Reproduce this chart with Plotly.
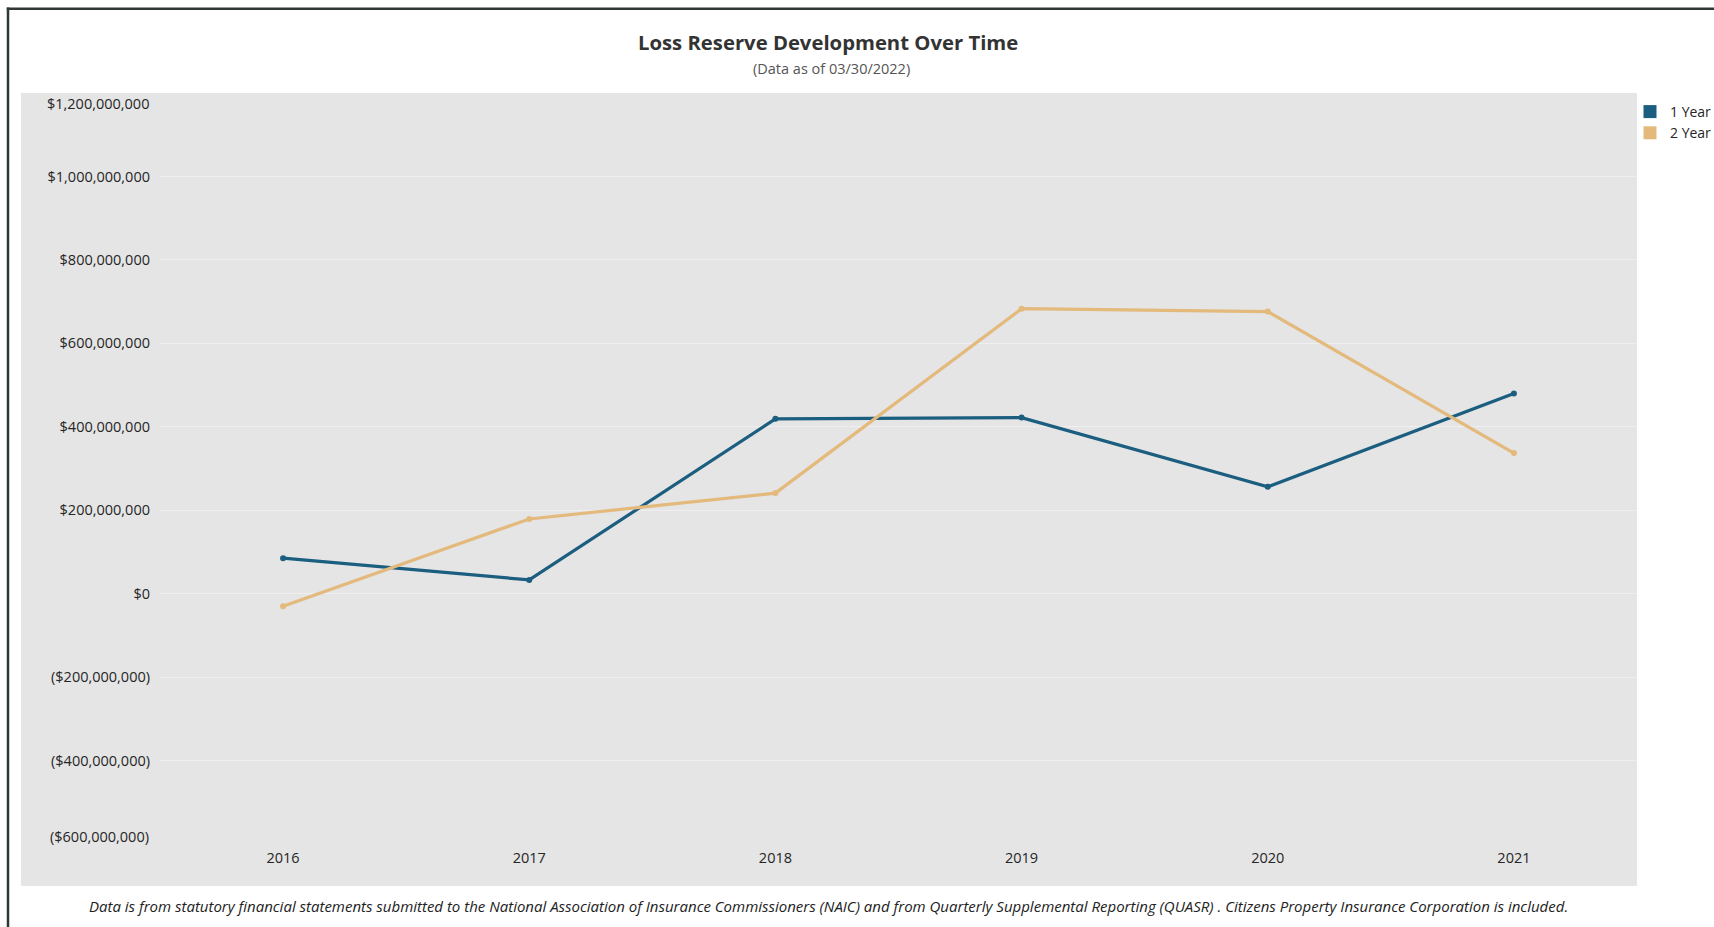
import plotly.graph_objects as go

# ---- data ----
years = ["2016", "2017", "2018", "2019", "2020", "2021"]
one_year = [85_000_000, 33_000_000, 419_000_000, 422_000_000, 256_000_000, 480_000_000]
two_year = [-30_000_000, 179_000_000, 241_000_000, 683_000_000, 676_000_000, 337_000_000]
y_ticks = [-400_000_000, -200_000_000, 0, 200_000_000, 400_000_000,
           600_000_000, 800_000_000, 1_000_000_000]
y_min, y_max = -600_000_000, 1_200_000_000

def money(v):
    s = "${:,.0f}".format(abs(v))
    return "({})".format(s) if v < 0 else s

tick_text = [money(v) for v in y_ticks]

C1 = "#1B5E7F"
C2 = "#E3B97C"
GRAY = "#E5E5E5"
FONT = "Open Sans"
TXT = "#262626"

W, H = 1714, 927
L, R, T, B = 160, 1637, 93, 844.5

def px(x):
    return (x - L) / (R - L)

def py(y):
    return (B - y) / (B - T)

fig = go.Figure()
fig.add_trace(go.Scatter(x=years, y=one_year, mode="lines+markers", name="1 Year",
                         line=dict(color=C1, width=3.2), marker=dict(color=C1, size=6),
                         showlegend=False))
fig.add_trace(go.Scatter(x=years, y=two_year, mode="lines+markers", name="2 Year",
                         line=dict(color=C2, width=3.2), marker=dict(color=C2, size=6),
                         showlegend=False))
# legend swatches
for name, c in [("1 Year", C1), ("2 Year", C2)]:
    fig.add_trace(go.Scatter(x=[None], y=[None], mode="markers", name=name,
                             marker=dict(symbol="square", size=13, color=c)))

edge_notes = [
    dict(text=money(y_max), xref="paper", yref="y", x=0, y=y_max, xanchor="right",
         yanchor="middle", xshift=-9, yshift=-10, showarrow=False,
         font=dict(size=14.5, color=TXT, family=FONT)),
    dict(text=money(y_min), xref="paper", yref="y", x=0, y=y_min, xanchor="right",
         yanchor="middle", xshift=-9, yshift=8, showarrow=False,
         font=dict(size=14.5, color=TXT, family=FONT)),
]

fig.update_layout(
    width=W, height=H,
    margin=dict(l=L, r=W - R, t=T, b=H - B, pad=0, autoexpand=False),
    paper_bgcolor="white", plot_bgcolor=GRAY,
    font=dict(family=FONT, color=TXT),
    xaxis=dict(type="category", range=[-0.5, 5.5], showgrid=False, zeroline=False,
               showline=False, ticks="", tickfont=dict(size=14.5, color=TXT),
               ticklabelstandoff=3, automargin=False),
    yaxis=dict(range=[y_min, y_max], tickvals=y_ticks, ticktext=tick_text,
               showgrid=True, gridcolor="#EFEFEF", gridwidth=1,
               zeroline=False, showline=False, ticks="", automargin=False,
               tickfont=dict(size=14.5, color=TXT), ticklabelstandoff=9),
    legend=dict(x=px(1636), y=py(96), xanchor="left", yanchor="top",
                bgcolor="rgba(0,0,0,0)", font=dict(size=14, color=TXT),
                tracegroupgap=0, itemwidth=30, indentation=-6),
    showlegend=True,
    shapes=[
        dict(type="rect", xref="paper", yref="paper", x0=px(21), x1=px(1637),
             y0=py(886.5), y1=py(93), fillcolor=GRAY, line=dict(width=0), layer="below"),
        dict(type="line", xref="paper", yref="paper", x0=px(8), x1=px(8),
             y0=py(7.5), y1=py(930), line=dict(color="#2F3833", width=2.5)),
        dict(type="line", xref="paper", yref="paper", x0=px(6.8), x1=px(1720),
             y0=py(8.7), y1=py(8.7), line=dict(color="#2F3833", width=2.5)),
    ],
    annotations=edge_notes + [
        dict(text="<b>Loss Reserve Development Over Time</b>", xref="paper", yref="paper",
             x=px(828), y=py(41.6), xanchor="center", yanchor="middle", showarrow=False,
             font=dict(size=20.3, color="#333333", family=FONT)),
        dict(text="(Data as of 03/30/2022)", xref="paper", yref="paper",
             x=px(831), y=py(68), xanchor="center", yanchor="middle", showarrow=False,
             font=dict(size=14.5, color="#555555", family=FONT)),
        dict(text="<i>Data is from statutory financial statements submitted to the National Association of Insurance Commissioners (NAIC) and from Quarterly Supplemental Reporting (QUASR) . Citizens Property Insurance Corporation is included.</i>",
             xref="paper", yref="paper", x=px(828), y=py(907), xanchor="center",
             yanchor="middle", showarrow=False,
             font=dict(size=15, color="#222222", family=FONT)),
    ],
)

fig.write_html("out.html")
